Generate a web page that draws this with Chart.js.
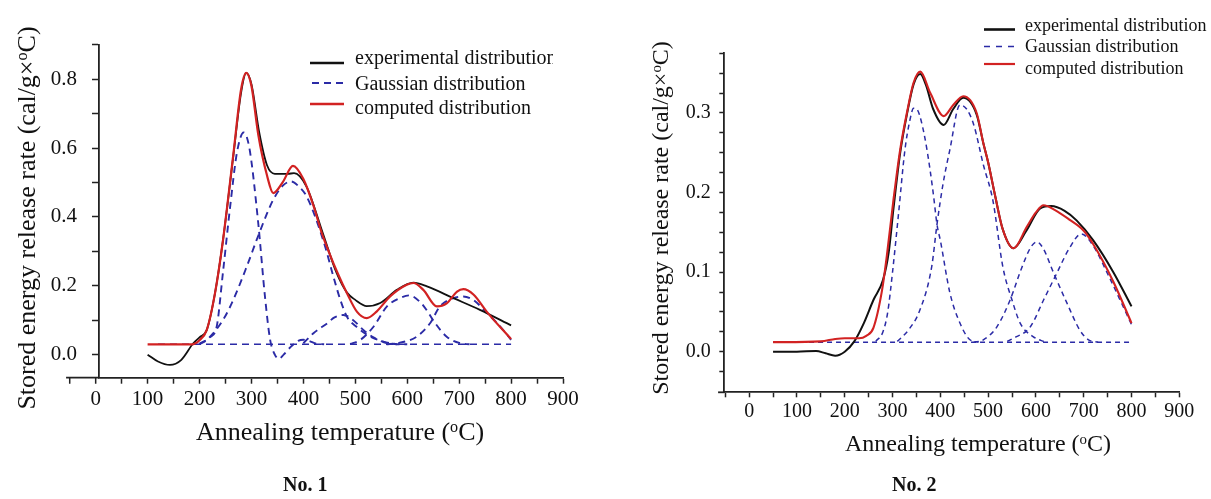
<!DOCTYPE html>
<html>
<head>
<meta charset="utf-8">
<script src="https://cdn.jsdelivr.net/npm/chart.js@4.4.1/dist/chart.umd.min.js"></script>
<style>
  html, body { margin: 0; padding: 0; background: #fff; }
  body { width: 1211px; height: 499px; overflow: hidden; position: relative;
         font-family: "Liberation Serif", "Times New Roman", serif; color: #111; }
  canvas { position: absolute; top: 0; }
  #c1 { left: 0; }
  #c2 { left: 605px; }
  .t { position: absolute; white-space: nowrap; }
  .yt { position: absolute; width: 500px; height: 30px; line-height: 30px; text-align: center;
        transform: rotate(-90deg); white-space: nowrap; }
  sup { font-size: 0.62em; vertical-align: 0.5em; line-height: 0; }
  #legendLines { position: absolute; left: 0; top: 0; pointer-events: none; }
</style>
</head>
<body>
<canvas id="c1" width="600" height="499" style="width:600px;height:499px"></canvas>
<canvas id="c2" width="606" height="499" style="width:606px;height:499px"></canvas>

<div class="yt" style="left:-223px;top:203px;font-size:26px;">Stored energy release rate (cal/g×<sup>o</sup>C)</div>
<div class="yt" style="left:410px;top:203px;font-size:24px;">Stored energy release rate (cal/g×<sup>o</sup>C)</div>

<div class="t" style="left:196px;top:417px;font-size:26px;line-height:30px;">Annealing temperature (<sup>o</sup>C)</div>
<div class="t" style="left:845px;top:428px;font-size:24px;line-height:30px;">Annealing temperature (<sup>o</sup>C)</div>

<div class="t" style="left:355px;top:45px;font-size:20px;line-height:24px;width:198px;overflow:hidden;">experimental distribution</div>
<div class="t" style="left:355px;top:71px;font-size:20px;line-height:24px;">Gaussian distribution</div>
<div class="t" style="left:355px;top:95px;font-size:20px;line-height:24px;">computed distribution</div>

<div class="t" style="left:1025px;top:14px;font-size:18px;line-height:22px;">experimental distribution</div>
<div class="t" style="left:1025px;top:35px;font-size:18px;line-height:22px;">Gaussian distribution</div>
<div class="t" style="left:1025px;top:57px;font-size:18px;line-height:22px;">computed distribution</div>

<div class="t" style="left:283px;top:472px;font-size:20px;line-height:24px;font-weight:bold;">No. 1</div>
<div class="t" style="left:892px;top:472px;font-size:20px;line-height:24px;font-weight:bold;">No. 2</div>

<svg id="legendLines" width="1211" height="499">
  <line x1="310" y1="63" x2="344" y2="63" stroke="#111" stroke-width="2.6"/>
  <line x1="312" y1="83" x2="344" y2="83" stroke="#2b2ba6" stroke-width="2" stroke-dasharray="7,5"/>
  <line x1="310" y1="104" x2="344" y2="104" stroke="#d22222" stroke-width="2.4"/>
  <line x1="984" y1="29.5" x2="1015" y2="29.5" stroke="#111" stroke-width="2.6"/>
  <line x1="984" y1="46.5" x2="1015" y2="46.5" stroke="#2b2ba6" stroke-width="1.6" stroke-dasharray="6,6"/>
  <line x1="984" y1="64" x2="1015" y2="64" stroke="#d22222" stroke-width="2.2"/>
</svg>

<script>
// ---------------- Chart No. 1 data ----------------
const exp1T = [100,120,143,165,188,200,214,230,245,265,280,290,300,315,330,345,370,382,406,438,464,484,500,522,548,580,612,638,689,740,800];
const exp1V = [0.0,-0.02,-0.03,-0.015,0.033,0.05,0.072,0.18,0.33,0.576,0.76,0.818,0.785,0.645,0.55,0.525,0.525,0.527,0.488,0.35,0.237,0.18,0.159,0.141,0.15,0.188,0.209,0.198,0.164,0.13,0.085];

const com1T = [100,150,185,200,214,230,245,265,280,290,300,313,330,342,360,380,400,420,435,450,465,484,503,522,541,567,599,612,631,657,676,696,708,728,753,800];
const com1V = [0.03,0.03,0.03,0.042,0.072,0.18,0.33,0.58,0.77,0.818,0.78,0.64,0.52,0.469,0.5,0.548,0.51,0.43,0.355,0.295,0.24,0.178,0.125,0.106,0.125,0.169,0.203,0.208,0.188,0.14,0.149,0.183,0.19,0.174,0.125,0.045];

const g1aT = [200,220,233,245,259,272,285,296,313,326,336,345,353,362,374,390,400,410,425,440];
const g1aV = [0.032,0.05,0.081,0.237,0.43,0.586,0.645,0.6,0.383,0.169,0.043,0.0,-0.012,0.0,0.02,0.04,0.043,0.04,0.032,0.03];
const g1bT = [200,214,245,265,291,310,330,342,360,376,390,406,438,460,471,484,503,529,554,580];
const g1bV = [0.03,0.043,0.1,0.159,0.256,0.333,0.41,0.45,0.49,0.503,0.49,0.46,0.333,0.215,0.16,0.11,0.08,0.052,0.038,0.03];
const g1cT = [400,420,445,460,477,496,516,535,555,575,600];
const g1cV = [0.033,0.063,0.09,0.108,0.115,0.1,0.071,0.05,0.036,0.031,0.03];
const g1dT = [490,510,535,561,586,604,624,637,654,676,702,720];
const g1dV = [0.031,0.043,0.081,0.14,0.164,0.172,0.154,0.13,0.091,0.052,0.033,0.03];
const g1eT = [560,580,618,644,663,689,708,727,753,780,800];
const g1eV = [0.03,0.033,0.052,0.091,0.14,0.164,0.169,0.159,0.122,0.08,0.043];
const base1T = [120,800];
const base1V = [0.03,0.03];

const xTicks1 = [-50,0,50,100,150,200,250,300,350,400,450,500,550,600,650,700,750,800,850,900];
const xLabels1 = [0,100,200,300,400,500,600,700,800,900];
const yTicks1 = [0,0.1,0.2,0.3,0.4,0.5,0.6,0.7,0.8,0.9];
const yLabels1 = ['0.0','','0.2','','0.4','','0.6','','0.8',''];

// ---------------- Chart No. 2 data ----------------
const exp2T = [50,100,140,160,180,200,220,240,260,280,292,302,316,330,344,358,370,385,407,427,448,476,490,500,515,530,553,580,609,632,660,685,720,762,800];
const exp2V = [0.0,0.0,0.001,-0.002,-0.005,0.0,0.013,0.036,0.065,0.09,0.125,0.18,0.25,0.298,0.336,0.349,0.335,0.305,0.285,0.305,0.319,0.298,0.262,0.238,0.195,0.155,0.13,0.152,0.18,0.183,0.177,0.165,0.14,0.1,0.057];

const com2T = [50,150,180,200,230,245,260,278,288,302,316,330,344,358,379,407,427,448,476,490,500,515,530,553,581,600,616,640,670,700,720,762,800];
const com2V = [0.012,0.013,0.016,0.017,0.017,0.02,0.03,0.077,0.12,0.191,0.254,0.3,0.338,0.352,0.325,0.296,0.31,0.321,0.3,0.262,0.238,0.195,0.155,0.13,0.157,0.175,0.184,0.178,0.166,0.152,0.135,0.088,0.036];

const g2aT = [265,280,290,300,312,326,336,344,352,360,372,385,393,400,420,441,462,480];
const g2aV = [0.013,0.025,0.05,0.1,0.17,0.254,0.29,0.306,0.304,0.29,0.254,0.2,0.16,0.14,0.074,0.036,0.015,0.012];
const g2bT = [310,333,357,382,393,406,420,441,455,470,490,510,531,550,567,594,620];
const g2bV = [0.013,0.027,0.052,0.107,0.16,0.212,0.254,0.31,0.305,0.285,0.235,0.19,0.106,0.065,0.036,0.019,0.012];
const g2cT = [470,490,518,546,570,590,602,615,637,665,692,710,730];
const g2cV = [0.012,0.015,0.031,0.065,0.105,0.132,0.138,0.13,0.099,0.061,0.027,0.015,0.012];
const g2dT = [540,553,588,616,644,670,695,720,750,780,800];
const g2dV = [0.013,0.017,0.031,0.065,0.099,0.13,0.148,0.133,0.098,0.06,0.034];
const base2T = [50,800];
const base2V = [0.012,0.012];

const xTicks2 = [-50,0,50,100,150,200,250,300,350,400,450,500,550,600,650,700,750,800,850,900];
const xLabels2 = [0,100,200,300,400,500,600,700,800,900];
const yTicks2 = [-0.025,0,0.025,0.05,0.075,0.1,0.125,0.15,0.175,0.2,0.225,0.25,0.275,0.3,0.325,0.35,0.375];
const yLabels2 = ['','0.0','','','','0.1','','','','0.2','','','','0.3','','',''];

// ---------------- helpers ----------------
const FONT = '"Liberation Serif", "Times New Roman", serif';
const RED = '#d22222', BLACK = '#111111', BLUE = '#2b2ba6', AXIS = '#222222';

function pts(t, v) { return t.map((x, i) => ({ x: x, y: v[i] })); }
function ds(label, t, v, color, width, dash, order) {
  return { label: label, data: pts(t, v), borderColor: color, backgroundColor: color,
           borderWidth: width, borderDash: dash || [], pointRadius: 0, fill: false,
           cubicInterpolationMode: 'monotone', order: order };
}

// draws the part of the x axis that lies left of the y axis (as in the reference)
const axisStub = {
  id: 'axisStub',
  afterDraw(chart, args, o) {
    if (!o || o.from === undefined) return;
    const xs = chart.scales.x, ca = chart.chartArea, ctx = chart.ctx;
    const y = ca.bottom;
    ctx.save();
    ctx.strokeStyle = AXIS; ctx.lineWidth = 1.8;
    ctx.beginPath();
    ctx.moveTo(xs.getPixelForValue(o.from), y);
    ctx.lineTo(ca.left, y);
    ctx.stroke();
    ctx.lineWidth = 1.5;
    ctx.beginPath();
    o.ticks.forEach(v => { const px = xs.getPixelForValue(v); ctx.moveTo(px, y); ctx.lineTo(px, y + o.len); });
    ctx.stroke();
    ctx.fillStyle = '#111';
    ctx.font = o.size + 'px ' + FONT;
    ctx.textAlign = 'center'; ctx.textBaseline = 'middle';
    o.ticks.forEach(v => {
      if (o.labels.includes(v)) ctx.fillText(String(v), xs.getPixelForValue(v), y + o.len + o.pad + o.size * 0.6);
    });
    ctx.restore();
  }
};

function makeChart(id, c) {
  return new Chart(document.getElementById(id), {
    type: 'line',
    data: { datasets: c.datasets },
    options: {
      responsive: false, animation: false, events: [],
      layout: { padding: { left: 0, right: c.padRight, top: c.padTop, bottom: c.padBottom } },
      plugins: { legend: { display: false }, tooltip: { enabled: false }, axisStub: c.stub },
      scales: {
        x: {
          type: 'linear', position: 'bottom', min: c.xMin, max: c.xMax,
          afterFit: s => { s.height = 60; },
          afterBuildTicks: s => { s.ticks = c.xTicks.filter(v => v >= c.xMin && v <= c.xMax).map(v => ({ value: v })); },
          ticks: { autoSkip: false, maxRotation: 0, minRotation: 0, padding: c.xPad, color: '#111',
                   font: { family: FONT, size: c.tickSize },
                   callback: v => (c.xLabels.includes(v) ? String(v) : '') },
          grid: { drawOnChartArea: false, drawTicks: true, tickLength: c.xTickLen, tickColor: AXIS, tickWidth: 1.5, color: AXIS },
          border: { display: true, color: AXIS, width: 1.8 }
        },
        y: {
          type: 'linear', position: 'left', min: c.yMin, max: c.yMax,
          afterFit: s => { s.width = c.yWidth; },
          afterBuildTicks: s => { s.ticks = c.yTicks.map(v => ({ value: v })); },
          ticks: { autoSkip: false, padding: c.yPad, color: '#111',
                   font: { family: FONT, size: c.tickSize },
                   callback: v => { const i = c.yTicks.indexOf(v); return i >= 0 ? c.yLabels[i] : ''; } },
          grid: { drawOnChartArea: false, drawTicks: true, tickLength: c.yTickLen, tickColor: AXIS, tickWidth: 1.5, color: AXIS },
          border: { display: true, color: AXIS, width: 1.8 }
        }
      }
    },
    plugins: [axisStub]
  });
}

makeChart('c1', {
  datasets: [
    ds('computed distribution', com1T, com1V, RED, 2.2, [], 0),
    ds('experimental distribution', exp1T, exp1V, BLACK, 1.8, [], 1),
    ds('Gaussian distribution', g1aT, g1aV, BLUE, 1.9, [7, 5], 2),
    ds('Gaussian 2', g1bT, g1bV, BLUE, 1.9, [7, 5], 2),
    ds('Gaussian 3', g1cT, g1cV, BLUE, 1.9, [7, 5], 2),
    ds('Gaussian 4', g1dT, g1dV, BLUE, 1.9, [7, 5], 2),
    ds('Gaussian 5', g1eT, g1eV, BLUE, 1.9, [7, 5], 2),
    ds('baseline', base1T, base1V, BLUE, 1.6, [7, 5], 3)
  ],
  xMin: 6.4, xMax: 900, yMin: -0.067, yMax: 0.9,
  xTicks: xTicks1, xLabels: xLabels1, yTicks: yTicks1, yLabels: yLabels1,
  yWidth: 99, padRight: 37, padTop: 44.7, padBottom: 61.3,
  tickSize: 21, xTickLen: 6, yTickLen: 7, xPad: 3, yPad: 15,
  stub: { from: -57, ticks: [-50, 0], labels: xLabels1, len: 6, pad: 3, size: 21 }
});

makeChart('c2', {
  datasets: [
    ds('computed distribution', com2T, com2V, RED, 2.1, [], 0),
    ds('experimental distribution', exp2T, exp2V, BLACK, 2.0, [], 1),
    ds('Gaussian distribution', g2aT, g2aV, BLUE, 1.5, [5, 4], 2),
    ds('Gaussian 2', g2bT, g2bV, BLUE, 1.5, [5, 4], 2),
    ds('Gaussian 3', g2cT, g2cV, BLUE, 1.5, [5, 4], 2),
    ds('Gaussian 4', g2dT, g2dV, BLUE, 1.5, [5, 4], 2),
    ds('baseline', base2T, base2V, BLUE, 1.5, [5, 4], 3)
  ],
  xMin: -52, xMax: 900, yMin: -0.051, yMax: 0.375,
  xTicks: xTicks2, xLabels: xLabels2, yTicks: yTicks2, yLabels: yLabels2,
  yWidth: 119.3, padRight: 31.7, padTop: 53.3, padBottom: 46.7,
  tickSize: 20, xTickLen: 5, yTickLen: 5, xPad: 2.5, yPad: 8.5,
  stub: { from: -65, ticks: [], labels: [], len: 5, pad: 2.5, size: 20 }
});
</script>
</body>
</html>
